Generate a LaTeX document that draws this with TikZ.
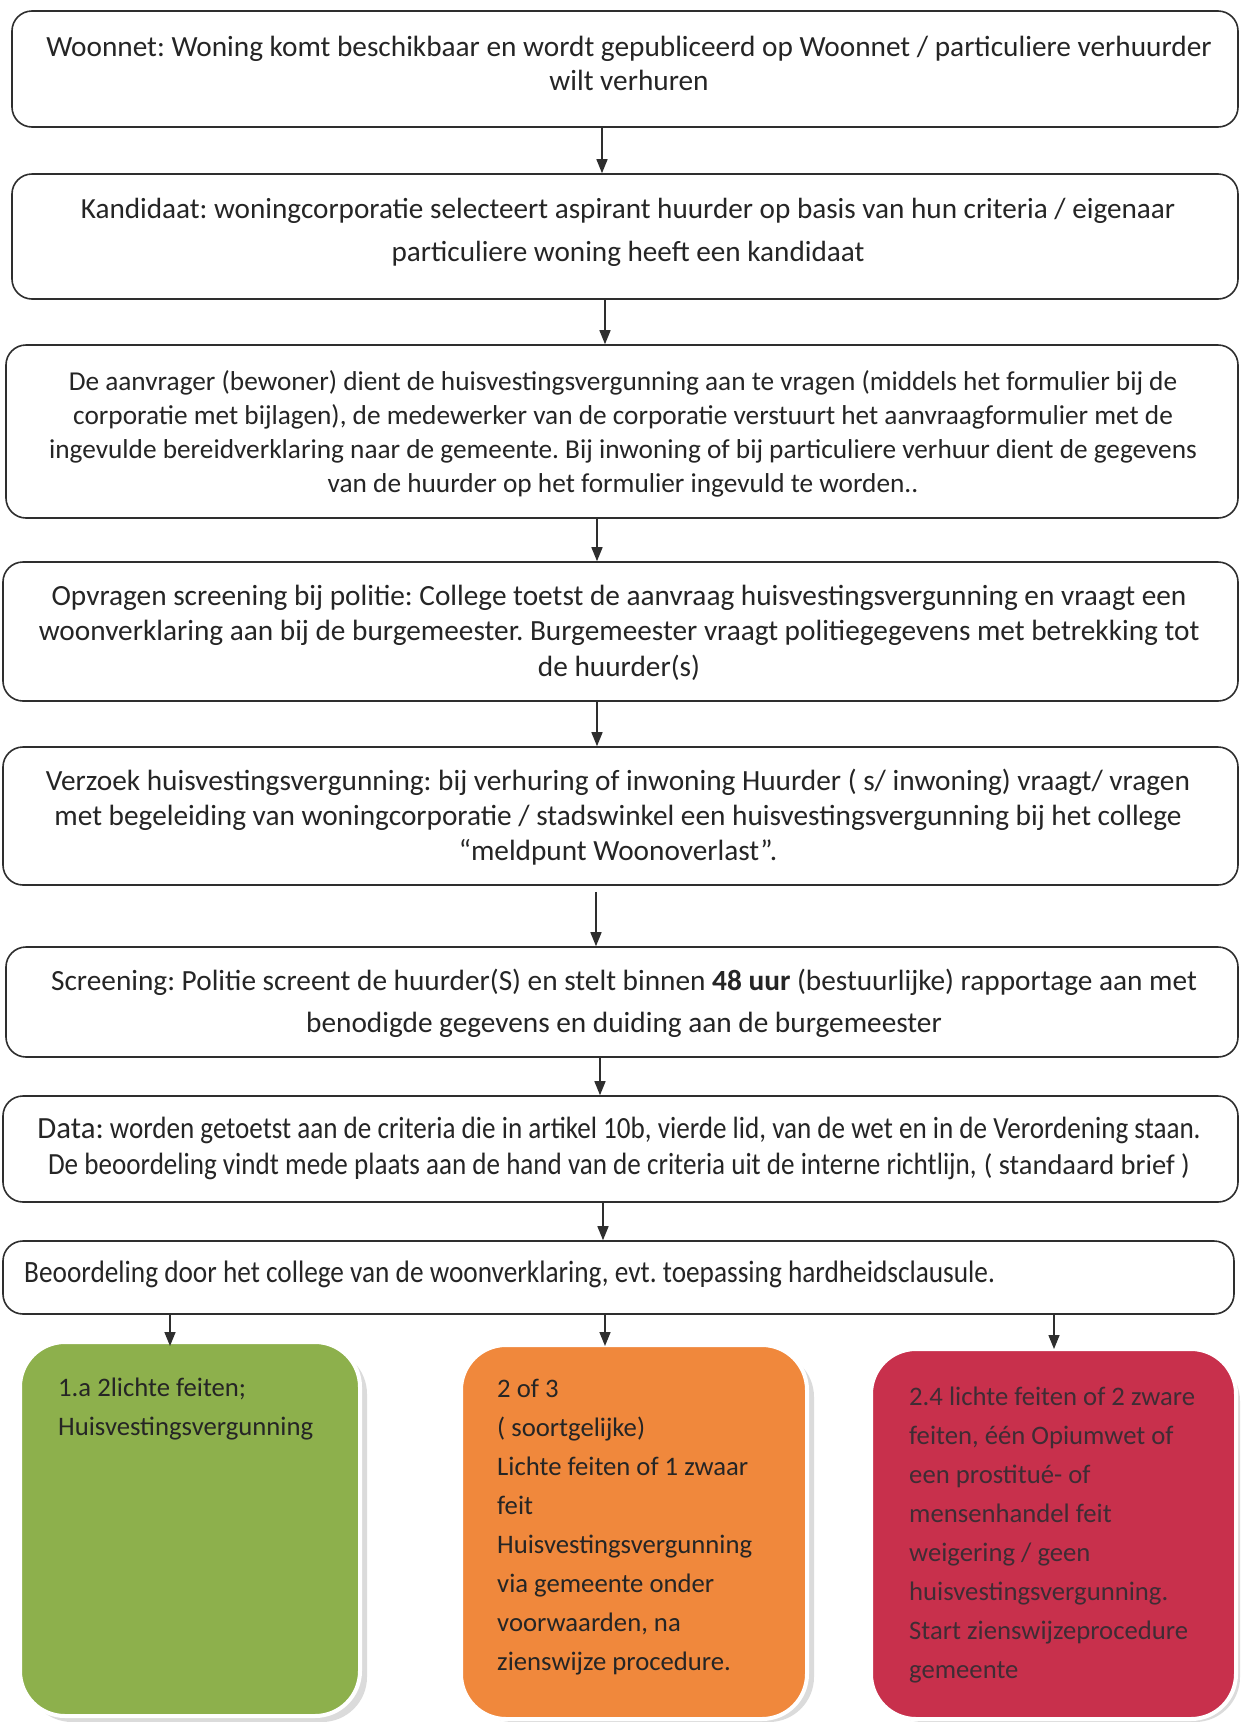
\documentclass[tikz,border=0pt]{standalone}
\usepackage{fontspec}
\setmainfont{Carlito}
\newfontfamily\narrowfont[FakeStretch=0.88]{Carlito}
\usetikzlibrary{arrows.meta}
\definecolor{ink}{HTML}{252525}
\definecolor{edge}{HTML}{2E2E2E}
\definecolor{gfill}{HTML}{8DB04C}
\definecolor{ofill}{HTML}{F0883C}
\definecolor{rfill}{HTML}{C8304C}
\definecolor{rink}{HTML}{3F2C34}
\tikzset{
  stepbox/.style={draw=edge, line width=1.6pt, rounded corners=20pt, inner sep=0pt},
  txt/.style={text=ink, inner sep=0pt, align=center},
  arr/.style={draw=edge, line width=1.5pt, -{Triangle[length=14pt,width=11pt]}},
  verdict/.style={line width=4pt, draw=white, rounded corners=45pt, inner sep=0pt},
  vtxt/.style={text=ink, inner sep=0pt, align=left, anchor=north west},
}
\begin{document}
\frenchspacing
\begin{tikzpicture}[x=1pt,y=-1pt]
\useasboundingbox (0,0) rectangle (1240,1722);
\fill[white] (0,0) rectangle (1240,1722);
% boxes
\node[stepbox, minimum width=1226pt, minimum height=116pt] (b1) at (625,69) {};
\node[stepbox, minimum width=1226pt, minimum height=125pt] (b2) at (625,236.5) {};
\node[stepbox, minimum width=1232pt, minimum height=173pt] (b3) at (622,431.5) {};
\node[stepbox, minimum width=1235pt, minimum height=139pt] (b4) at (620.5,631.5) {};
\node[stepbox, minimum width=1235pt, minimum height=138pt] (b5) at (620.5,816) {};
\node[stepbox, minimum width=1232pt, minimum height=110pt] (b6) at (622,1002) {};
\node[stepbox, minimum width=1235pt, minimum height=106pt] (b7) at (620.5,1149) {};
\node[stepbox, minimum width=1231pt, minimum height=73pt] (b8) at (618.5,1277.5) {};
% texts
\node[txt, font=\fontsize{29.3}{34}\selectfont] (t1) at (629,63) {Woonnet: Woning komt beschikbaar en wordt gepubliceerd op Woonnet / particuliere verhuurder\\wilt verhuren};
\node[txt, font=\fontsize{29.2}{43}\selectfont] (t2) at (628,232.5) {Kandidaat: woningcorporatie selecteert aspirant huurder op basis van hun criteria / eigenaar\\particuliere woning heeft een kandidaat};
\node[txt, font=\fontsize{27.3}{34}\selectfont] (t3) at (623,433.5) {De aanvrager (bewoner) dient de huisvestingsvergunning aan te vragen (middels het formulier bij de\\corporatie met bijlagen), de medewerker van de corporatie verstuurt het aanvraagformulier met de\\ingevulde bereidverklaring naar de gemeente. Bij inwoning of bij particuliere verhuur dient de gegevens\\van de huurder op het formulier ingevuld te worden..};
\node[txt, font=\fontsize{29.3}{35.5}\selectfont] (t4) at (619,632.5) {Opvragen screening bij politie: College toetst de aanvraag huisvestingsvergunning en vraagt een\\woonverklaring aan bij de burgemeester. Burgemeester vraagt politiegegevens met betrekking tot\\de huurder(s)};
\node[txt, font=\fontsize{29.3}{35}\selectfont] (t5) at (618,817) {Verzoek huisvestingsvergunning: bij verhuring of inwoning Huurder ( s/ inwoning) vraagt/ vragen\\met begeleiding van woningcorporatie / stadswinkel een huisvestingsvergunning bij het college\\“meldpunt Woonoverlast”.};
\node[txt, font=\fontsize{29.3}{42}\selectfont] (t6) at (624,1003) {Screening: Politie screent de huurder(S) en stelt binnen \textbf{48 uur} (bestuurlijke) rapportage aan met\\benodigde gegevens en duiding aan de burgemeester};
\node[txt, font=\fontsize{30.8}{36}\selectfont] (t7) at (619,1148) {Data:{\narrowfont{} worden getoetst aan de criteria die in artikel 10b, vierde lid, van de wet en in de Verordening staan.}\\{\narrowfont De beoordeling vindt mede plaats aan de hand van de criteria uit de interne richtlijn,} {\fontsize{28.5}{36}\selectfont( standaard brief )}};
\node[txt, anchor=west, font=\narrowfont\fontsize{31}{36}\selectfont] (t8) at (24,1274) {Beoordeling door het college van de woonverklaring, evt. toepassing hardheidsclausule.};
% connectors between steps
\draw[arr] ([xshift=-23pt]b1.south) -- ([xshift=-23pt]b2.north);
\draw[arr] ([xshift=-20pt]b2.south) -- ([xshift=-17pt]b3.north);
\draw[arr] ([xshift=-25pt]b3.south) -- ([xshift=-23.5pt]b4.north);
\draw[arr] ([xshift=-23.5pt]b4.south) -- ([xshift=-23.5pt]b5.north);
\draw[arr] ([xshift=-24.5pt,yshift=-6pt]b5.south) -- ([xshift=-26pt]b6.north);
\draw[arr] ([xshift=-22pt]b6.south) -- ([xshift=-20.5pt]b7.north);
\draw[arr] ([xshift=-17.5pt]b7.south) -- ([xshift=-15.5pt]b8.north);
% verdict boxes
\fill[gray!28, rounded corners=45pt] (27,1349) rectangle (367,1722);
\fill[gray!28, rounded corners=45pt] (468,1352) rectangle (814,1722);
\fill[gray!28, rounded corners=45pt] (878,1356) rectangle (1240,1722);
\node[verdict, fill=gfill, minimum width=340pt, minimum height=374pt] (g) at (190,1529) {};
\node[verdict, fill=ofill, minimum width=346pt, minimum height=374pt] (o) at (634,1532) {};
\node[verdict, fill=rfill, minimum width=365pt, minimum height=370pt] (r) at (1053.5,1534) {};
\draw[arr] ([xshift=-448.5pt]b8.south) -- ([xshift=-20pt,yshift=-6pt]g.north);
\draw[arr] ([xshift=-13.5pt]b8.south) -- ([xshift=-29pt,yshift=-3pt]o.north);
\draw[arr] ([xshift=435.5pt]b8.south) -- ([xshift=0.5pt,yshift=-2pt]r.north);
\node[vtxt, font=\fontsize{26.7}{39}\selectfont] (gt) at (58,1378) {1.a 2lichte feiten;\\Huisvestingsvergunning};
\node[vtxt, font=\fontsize{26.7}{39}\selectfont] (ot) at (497,1379) {2 of 3\\( soortgelijke)\\Lichte feiten of 1 zwaar\\feit\\Huisvestingsvergunning\\via gemeente onder\\voorwaarden, na\\zienswijze procedure.};
\node[vtxt, text=rink, font=\fontsize{26.7}{39}\selectfont] (rt) at (909,1387) {2.4 lichte feiten of 2 zware\\feiten, één Opiumwet of\\een prostitué- of\\mensenhandel feit\\weigering / geen\\huisvestingsvergunning.\\Start zienswijzeprocedure\\gemeente};
\end{tikzpicture}
\end{document}
